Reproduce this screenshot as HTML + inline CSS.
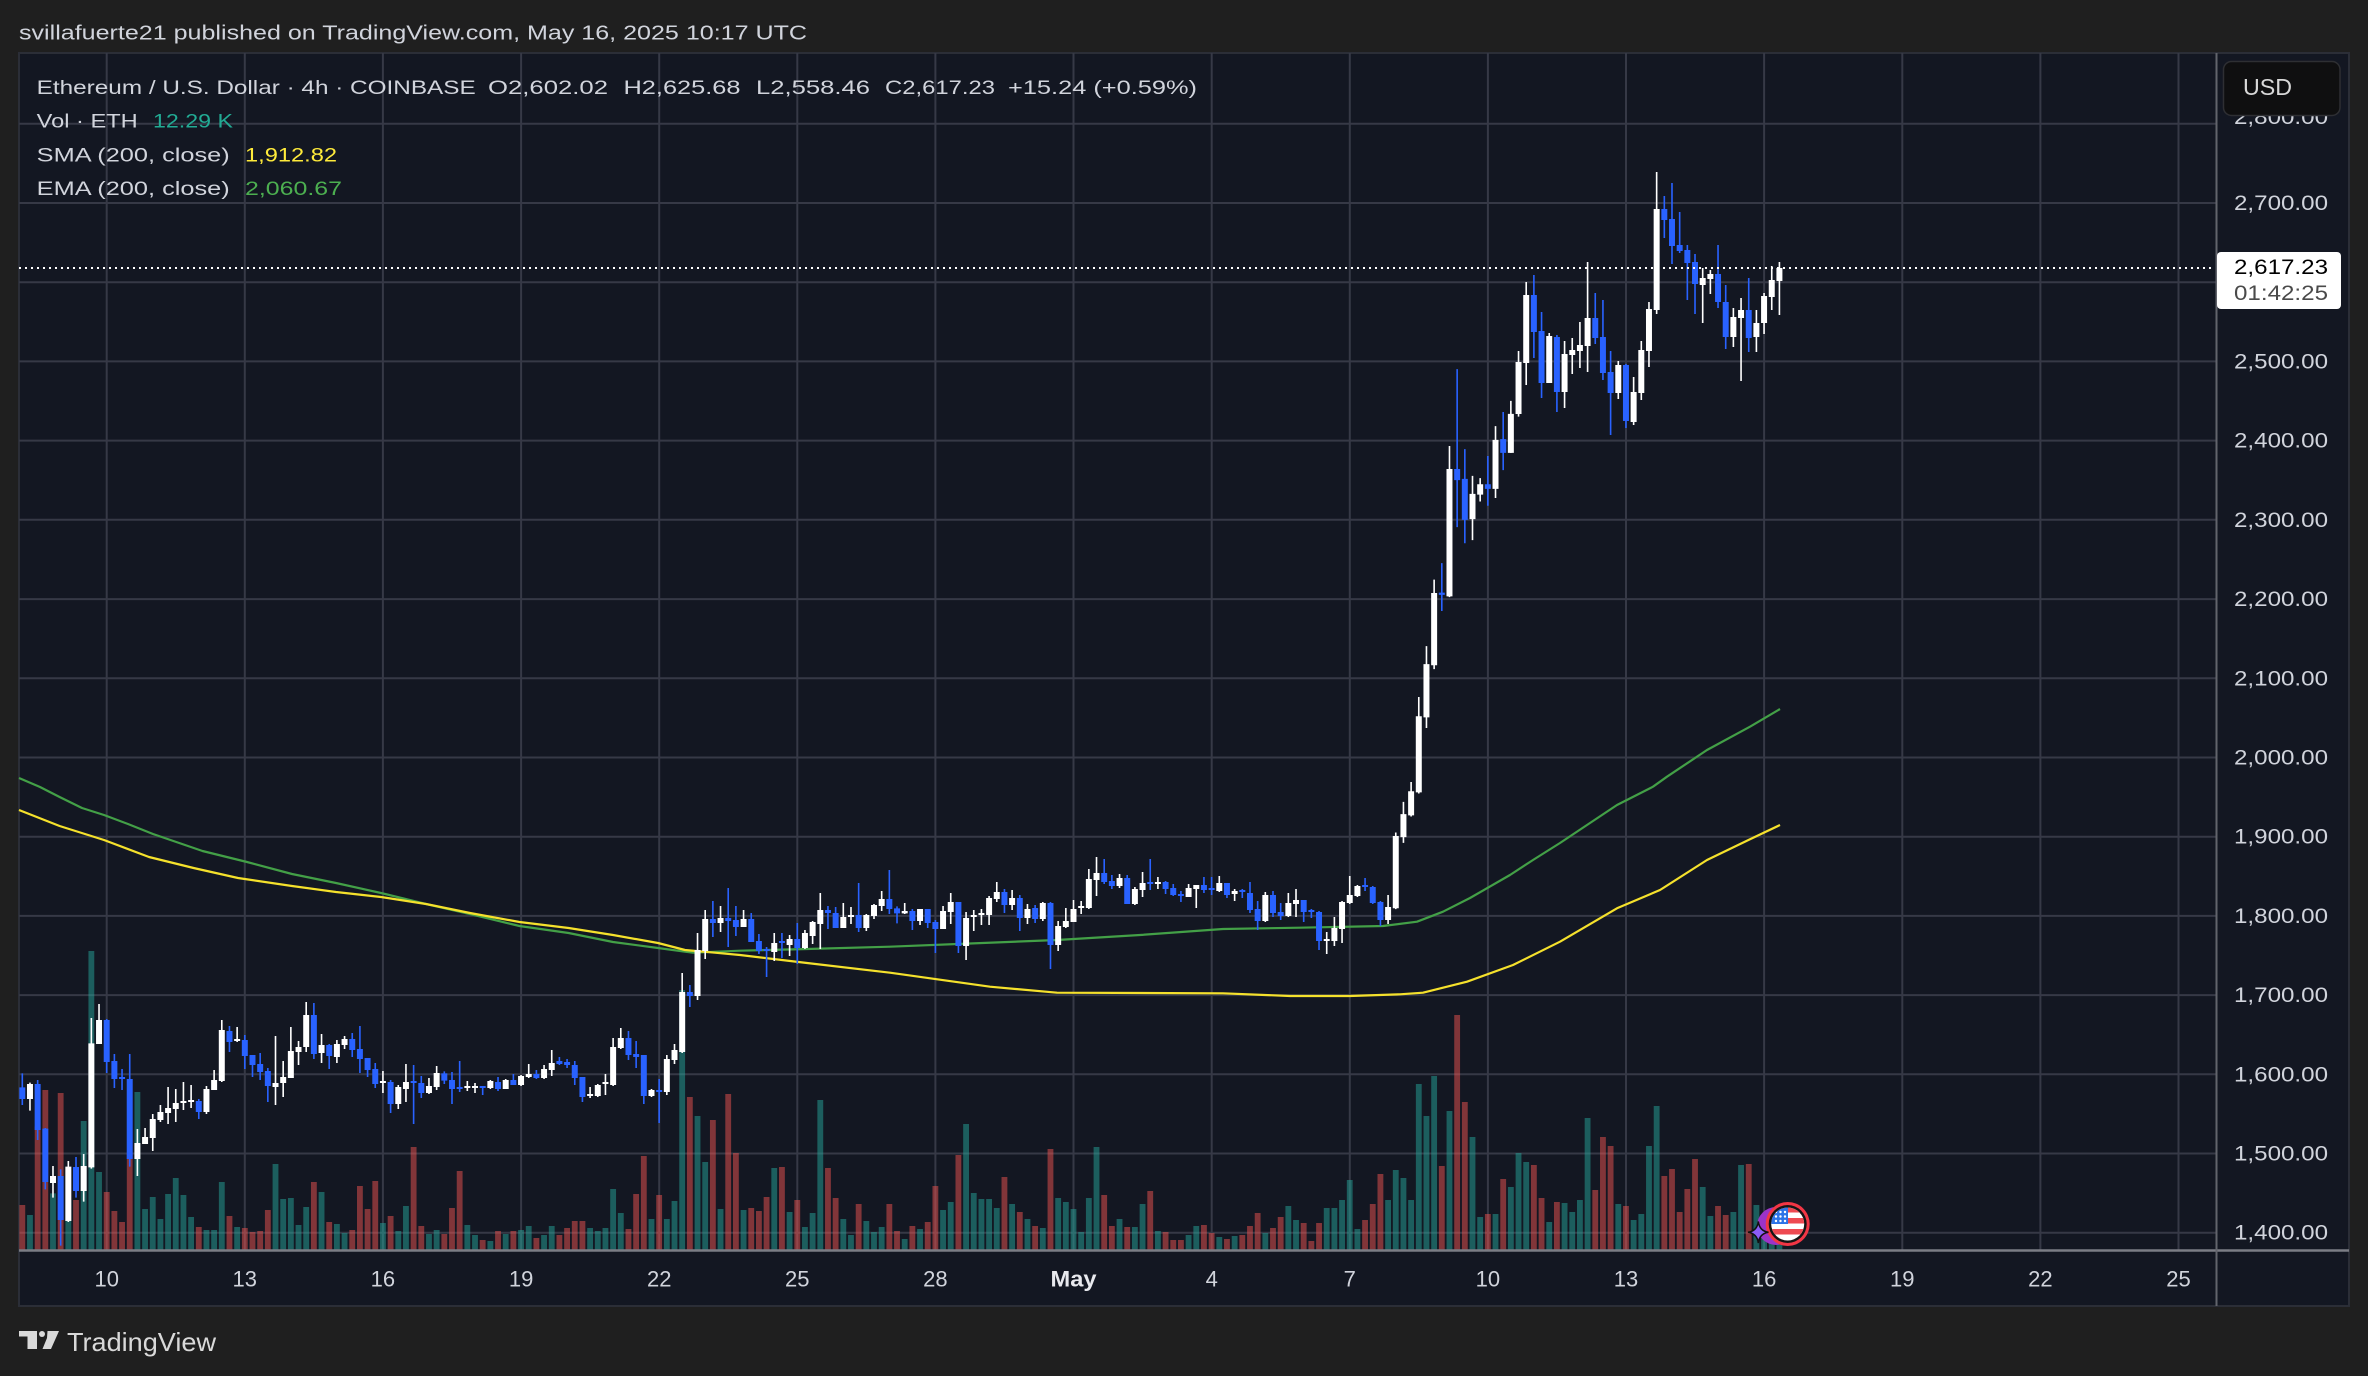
<!DOCTYPE html>
<html><head><meta charset="utf-8"><style>
html,body{margin:0;padding:0;background:#1f1f1f;overflow:hidden}
svg{display:block}
text{font-family:"Liberation Sans",sans-serif}
</style></head><body>
<svg width="2368" height="1376" viewBox="0 0 2368 1376" xmlns="http://www.w3.org/2000/svg">
<rect x="0" y="0" width="2368" height="1376" fill="#1f1f1f"/>
<text x="19" y="39.5" font-size="20" fill="#d1d4dc" textLength="788" lengthAdjust="spacingAndGlyphs">svillafuerte21 published on TradingView.com, May 16, 2025 10:17 UTC</text>
<rect x="19" y="53" width="2330" height="1253" fill="#131722" stroke="#2b2e37" stroke-width="2"/>
<!-- grid -->
<g stroke="#363946" stroke-width="2">
<path d="M19 123.8H2216M19 203H2216M19 282.2H2216M19 361.4H2216M19 440.6H2216M19 519.8H2216M19 599.1H2216M19 678.3H2216M19 757.5H2216M19 836.7H2216M19 915.9H2216M19 995.1H2216M19 1074.3H2216M19 1153.5H2216M19 1232.7H2216"/>
<path d="M106.7 53V1250M244.8 53V1250M382.9 53V1250M521.1 53V1250M659.2 53V1250M797.3 53V1250M935.4 53V1250M1073.5 53V1250M1211.7 53V1250M1349.8 53V1250M1487.9 53V1250M1626 53V1250M1764.1 53V1250M1902.3 53V1250M2040.4 53V1250M2178.5 53V1250"/>
</g>
<!-- volumes -->
<g fill="none" stroke-width="0.76">
<g transform="matrix(7.673 0 0 0.333333 22.3 900)">
<path stroke="rgba(38,166,154,0.5)" d="M1 945V1048.5M4 880V1048.5M6 900V1048.5M8 663V1048.5M9 153V1048.5M10 816V1048.5M15 576V1048.5M16 927V1048.5M17 891V1048.5M18 957V1048.5M19 882V1048.5M20 834V1048.5M21 885V1048.5M22 951V1048.5M24 990V1048.5M25 990V1048.5M26 846V1048.5M28 981V1048.5M33 792V1048.5M34 897V1048.5M35 894V1048.5M36 975V1048.5M37 921V1048.5M39 876V1048.5M41 972V1048.5M42 999V1048.5M47 969V1048.5M49 993V1048.5M50 918V1048.5M53 1002V1048.5M54 990V1048.5"/>
<path stroke="rgba(239,83,80,0.5)" d="M0 915V1048.5M2 680V1048.5M3 570V1048.5M5 579V1048.5M7 900V1048.5M11 876V1048.5M12 933V1048.5M13 966V1048.5M14 760V1048.5M23 981V1048.5M27 948V1048.5M29 984V1048.5M30 996V1048.5M31 993V1048.5M32 930V1048.5M38 846V1048.5M40 966V1048.5M43 990V1048.5M44 858V1048.5M45 927V1048.5M46 843V1048.5M48 948V1048.5M51 741V1048.5M52 978V1048.5"/>
</g>
<g transform="matrix(7.673 0 0 0.333333 22.3 860)">
<path stroke="rgba(38,166,154,0.5)" d="M58 1095V1168.5M59 1125V1168.5M61 1143V1168.5M63 1122V1168.5M65 1110V1168.5M66 1098V1168.5M68 1125V1168.5M69 1098V1168.5M74 1104V1168.5M75 1113V1168.5M76 1104V1168.5M77 987V1168.5M78 1059V1168.5M82 1077V1168.5M84 1077V1168.5M85 1023V1168.5M86 390V1168.5M88 768V1168.5M89 906V1168.5M91 1047V1168.5M94 1050V1168.5M98 924V1168.5M100 1056V1168.5M102 1101V1168.5M103 1059V1168.5M104 720V1168.5M107 1077V1168.5M108 1125V1168.5M110 1083V1168.5M111 1116V1168.5M112 1101V1168.5"/>
<path stroke="rgba(239,83,80,0.5)" d="M55 1122V1168.5M56 1044V1168.5M57 933V1168.5M60 1140V1168.5M62 1113V1168.5M64 1113V1168.5M67 1134V1168.5M70 1125V1168.5M71 1104V1168.5M72 1083V1168.5M73 1083V1168.5M79 1107V1168.5M80 1002V1168.5M81 888V1168.5M83 1005V1168.5M87 711V1168.5M90 780V1168.5M92 702V1168.5M93 879V1168.5M95 1044V1168.5M96 1053V1168.5M97 1011V1168.5M99 921V1168.5M101 1020V1168.5M105 924V1168.5M106 1014V1168.5M109 1032V1168.5M113 1032V1168.5"/>
</g>
<g transform="matrix(7.673 0 0 0.333333 22.3 840)">
<path stroke="rgba(38,166,154,0.5)" d="M115 1197V1228.5M117 1167V1228.5M120 1110V1228.5M121 1086V1228.5M123 852V1228.5M124 1059V1228.5M125 1077V1228.5M126 1077V1228.5M127 1104V1228.5M129 1092V1228.5M131 1137V1228.5M133 1164V1228.5M135 1074V1228.5M136 1086V1228.5M137 1107V1228.5M138 1176V1228.5M139 1074V1228.5M140 921V1228.5M143 1137V1228.5M145 1161V1228.5M146 1092V1228.5M148 1173V1228.5M152 1185V1228.5M153 1158V1228.5M156 1191V1228.5M158 1188V1228.5M162 1179V1228.5M165 1098V1228.5M166 1140V1228.5M170 1104V1228.5M171 1104V1228.5M172 1080V1228.5M173 1020V1228.5M174 1167V1228.5"/>
<path stroke="rgba(239,83,80,0.5)" d="M114 1173V1228.5M116 1158V1228.5M118 1146V1228.5M119 1038V1228.5M122 945V1228.5M128 1011V1228.5M130 1116V1228.5M132 1158V1228.5M134 927V1228.5M141 1065V1228.5M142 1158V1228.5M144 1161V1228.5M147 1053V1228.5M149 1176V1228.5M150 1200V1228.5M151 1200V1228.5M154 1155V1228.5M155 1179V1228.5M157 1197V1228.5M159 1185V1228.5M160 1158V1228.5M161 1119V1228.5M163 1164V1228.5M164 1131V1228.5M167 1149V1228.5M168 1203V1228.5M169 1149V1228.5"/>
</g>
<g transform="matrix(7.673 0 0 0.333333 22.3 980)">
<path stroke="rgba(38,166,154,0.5)" d="M178 660V808.5M179 570V808.5M180 594V808.5M181 660V808.5M182 312V808.5M183 408V808.5M184 288V808.5M186 393V808.5M189 471V808.5M190 711V808.5M192 702V808.5M194 621V808.5M195 519V808.5M196 546V808.5M199 726V808.5M201 669V808.5M202 696V808.5M203 660V808.5M204 414V808.5M208 672V808.5M210 720V808.5M211 702V808.5M212 498V808.5M213 378V808.5M219 621V808.5M220 708V808.5M223 696V808.5M224 555V808.5M226 675V808.5M227 760V808.5M228 780V808.5M229 790V808.5"/>
<path stroke="rgba(239,83,80,0.5)" d="M175 720V808.5M176 672V808.5M177 582V808.5M185 558V808.5M187 105V808.5M188 366V808.5M191 702V808.5M193 597V808.5M197 555V808.5M198 654V808.5M200 666V808.5M205 630V808.5M206 471V808.5M207 498V808.5M209 678V808.5M214 588V808.5M215 567V808.5M216 696V808.5M217 627V808.5M218 537V808.5M221 678V808.5M222 705V808.5M225 552V808.5"/>
</g>
</g>
<!-- moving averages -->
<polyline fill="none" stroke="#43a047" stroke-width="2.2" stroke-linejoin="round" points="19,778 40,787 59.6,797 82,808 104,815 128,824 153,834 202.5,851 247,862 292,874 336,883 381,893 426,904 470,914 519.5,926 568.6,933 613,942 658,948 685,951.7 693,952.7 740,950.7 807,949 890,946.7 970,943.5 1057,940 1140,935 1223,929 1300,927.7 1383,926 1417,921.7 1443,911.7 1470,898 1510,875 1533,860 1560,843 1590,823 1617,805 1653,786.7 1667,776.7 1707,750 1750,726.7 1780,709"/>
<polyline fill="none" stroke="#f5e12c" stroke-width="2.2" stroke-linejoin="round" points="19,810 59.6,826 104,840 149,857 193.6,868 238,878 292,886 336,892 381,897 426,904 470,913 519.5,922 568.6,928 613,935 658,943 685,950 715,952.7 740,955 807,963 890,972.7 990,986.7 1057,992.7 1223,993.3 1290,996 1350,996 1400,994.3 1423,992.7 1467,981.7 1513,965 1560,941.7 1617,908.3 1660,890 1707,860 1750,839.3 1780,825"/>
<!-- candles -->
<g fill="none">
<g transform="matrix(7.673 0 0 0.333333 22.3 900)">
<path stroke="#ffffff" stroke-width="0.21" d="M1 548V632M4 798V893M6 783V966M8 762V905M9 354V806M10 312V432M15 687V828M16 684V732M17 642V753M18 615V666M19 561V672M20 567V666M21 546V630M22 555V624M24 558V642M25 510V570M26 360V546M28 381V426M33 408V615M34 483V591M35 381V534M36 423V495M37 306V456M39 402V489M41 420V489M42 408V447M47 513V579M49 555V627M50 492V606M53 534V582M54 498V570"/>
<path stroke="#ffffff" stroke-width="0.78" d="M1 552V597M4 828V849M6 800V963M8 798V873M9 430V802M10 360V432M15 729V777M16 711V732M17 657V714M18 636V660M19 624V639M20 609V627M21 603V609M22 600V606M24 567V636M25 540V570M26 390V543M28 417V423M33 549V561M34 531V549M35 453V534M36 441V456M37 345V441M39 435V459M41 432V471M42 417V435M47 543V549M49 561V612M50 546V567M53 558V579M54 519V561"/>
<path stroke="#2962ff" stroke-width="0.21" d="M0 520V615M2 540V720M3 684V868M5 808V1037M7 771V893M11 357V519M12 462V564M13 507V570M14 462V800M23 597V657M27 378V456M29 405V507M30 465V531M31 459V540M32 504V606M38 309V477M40 432V507M43 399V471M44 378V519M45 474V531M46 489V564M48 540V639M51 495V672M52 528V594"/>
<path stroke="#2962ff" stroke-width="0.78" d="M0 562V597M2 552V690M3 686V846M5 828V960M7 801V873M11 360V486M12 483V537M13 531V537M14 537V777M23 603V636M27 393V426M29 420V468M30 465V495M31 492V516M32 513V558M38 345V462M40 435V468M43 417V450M44 447V477M45 474V510M46 507V552M48 546V612M51 543V549M52 549V579"/>
</g>
<g transform="matrix(7.673 0 0 0.333333 22.3 860)">
<path stroke="#ffffff" stroke-width="0.21" d="M58 663V693M59 669V699M61 660V687M63 657V687M65 645V678M66 612V654M68 615V657M69 570V648M74 681V714M75 672V711M76 642V705M77 534V678M78 504V567M82 687V711M84 585V705M85 552V612M86 339V579M88 219V420M89 150V297M91 138V216M94 150V201M98 219V303M100 225V288M102 210V267M103 183V252M104 99V267M107 129V204M108 141V192M110 162V213M111 132V177M112 93V153"/>
<path stroke="#ffffff" stroke-width="0.78" d="M58 678V684M59 678V684M61 663V684M63 660V687M65 648V675M66 642V651M68 627V654M69 609V630M74 702V708M75 675V708M76 666V672M77 561V675M78 534V564M82 690V708M84 597V696M85 570V600M86 396V576M88 270V408M89 177V273M91 174V189M94 177V201M98 249V276M100 237V255M102 219V264M103 186V228M104 150V192M107 171V204M108 165V171M110 165V204M111 135V168M112 117V138"/>
<path stroke="#2962ff" stroke-width="0.21" d="M55 634V672M56 636V732M57 603V696M60 678V705M62 651V693M64 642V675M67 630V657M70 591V615M71 597V624M72 603V675M73 651V726M79 513V600M80 543V624M81 585V732M83 657V789M87 375V441M90 123V231M92 84V261M93 138V228M95 159V246M96 222V282M97 261V351M99 219V294M101 189V312M105 138V207M106 141V204M109 69V216M113 30V162"/>
<path stroke="#2962ff" stroke-width="0.78" d="M55 640V662M56 660V687M57 681V687M60 678V684M62 666V687M64 660V675M67 642V654M70 603V612M71 606V615M72 615V654M73 651V711M79 534V585M80 582V591M81 585V708M83 690V696M87 396V408M90 177V189M92 174V183M93 180V201M95 177V246M96 243V273M97 267V273M99 243V249M101 237V264M105 150V159M106 159V204M109 165V204M113 117V147"/>
</g>
<g transform="matrix(7.673 0 0 0.333333 22.3 840)">
<path stroke="#ffffff" stroke-width="0.21" d="M115 189V222M117 207V255M120 198V267M121 159V252M123 216V360M124 210V273M125 207V255M126 168V255M127 126V186M129 150V210M131 192V252M133 186V243M135 243V333M136 204V264M137 180V246M138 183V222M139 87V207M140 51V168M143 102V144M145 141V195M146 96V171M148 111V147M152 132V171M153 135V204M156 108V156M158 147V183M162 156V246M165 159V231M166 147V231M170 276V342M171 231V318M172 183V309M173 108V192M174 135V171M178 165V252"/>
<path stroke="#ffffff" stroke-width="0.78" d="M115 213V220M117 207V243M120 213V267M121 186V216M123 234V318M124 225V231M125 219V225M126 174V225M127 156V177M129 174V195M131 207V234M133 189V237M135 258V315M136 243V261M137 207V246M138 198V204M139 117V204M140 99V120M143 114V138M145 147V192M146 129V150M148 126V132M152 144V171M153 135V147M156 129V153M158 153V162M162 165V243M165 189V228M166 180V192M170 297V303M171 264V303M172 186V267M173 165V189M174 138V168M178 201V240"/>
<path stroke="#2962ff" stroke-width="0.21" d="M114 199V250M116 207V270M118 207V264M119 240V339M122 186V339M128 147V219M130 165V273M132 195V249M134 186V387M141 57V132M142 105V147M144 105V192M147 57V150M149 123V162M150 132V168M151 153V186M154 111V159M155 111V165M157 129V174M159 147V174M160 126V219M161 183V270M163 153V231M164 189V240M167 180V246M168 207V234M169 213V330M175 114V153M176 138V192M177 183V258"/>
<path stroke="#2962ff" stroke-width="0.78" d="M114 205V220M116 213V243M118 207V249M119 246V267M122 186V318M128 156V195M130 174V234M132 204V237M134 189V315M141 99V126M142 123V138M144 114V192M147 126V132M149 126V147M150 144V165M151 162V168M154 135V150M155 144V150M157 129V165M159 150V156M160 159V210M161 207V243M163 165V219M164 216V228M167 180V216M168 210V216M169 216V303M175 135V141M176 141V189M177 186V240"/>
</g>
<g transform="matrix(7.673 0 0 0.3827 22.3 340)">
<path stroke="#ffffff" stroke-width="0.21" d="M179 1287V1487M180 1207V1314M181 1155V1245M182 933V1185M183 800V1014M184 626V860M186 277V672M189 355V523M190 361V422M192 225V413M194 159V295"/>
<path stroke="#ffffff" stroke-width="0.78" d="M179 1296V1485M180 1239V1299M181 1179V1242M182 983V1182M183 847V986M184 661V850M186 337V670M189 402V468M190 377V404M192 261V389M194 193V295"/>
<path stroke="#2962ff" stroke-width="0.21" d="M185 583V708M187 76V489M188 285V531M191 303V433M193 188V340"/>
<path stroke="#2962ff" stroke-width="0.78" d="M185 660V666M187 337V366M188 363V470M191 377V389M193 259V295"/>
</g>
<g transform="matrix(7.673 0 0 0.333333 22.3 150)">
<path stroke="#ffffff" stroke-width="0.21" d="M195 603V800M196 396V705M199 549V699M201 573V774M202 564V672M203 516V654M204 336V666M208 633V747M210 681V825M211 573V750M212 456V651M213 66V492M219 354V519M220 360V432M223 474V591M224 444V693M226 480V606M227 429V552M228 348V480M229 336V495"/>
<path stroke="#ffffff" stroke-width="0.78" d="M195 636V792M196 435V639M199 558V699M201 612V726M202 600V615M203 585V603M204 504V588M208 645V729M210 726V816M211 600V729M212 477V603M213 177V480M219 384V405M220 372V387M223 501V561M224 480V504M226 519V561M227 438V519M228 390V441M229 354V393"/>
<path stroke="#2962ff" stroke-width="0.21" d="M197 375V624M198 486V744M200 555V786M205 429V582M206 450V690M207 603V855M209 642V834M214 138V264M215 99V342M216 186V309M217 285V450M218 312V492M221 285V474M222 405V597M225 384V606"/>
<path stroke="#2962ff" stroke-width="0.78" d="M197 435V546M198 543V699M200 561V726M205 504V564M206 561V669M207 666V729M209 645V813M214 177V210M215 207V288M216 285V303M217 300V339M218 336V402M221 372V456M222 456V561M225 480V564"/>
</g>
</g>
<!-- current price line -->
<path d="M19 268H2215" stroke="#ffffff" stroke-width="2" stroke-dasharray="2 4"/>
<!-- axes separators -->
<path d="M19 1250.5H2349" stroke="#7b7d85" stroke-width="2.5"/>
<path d="M2216.5 53V1306" stroke="#62646c" stroke-width="2"/>
<!-- legend -->
<g font-size="19.5" fill="#d1d4dc">
<text x="36.7" y="94" textLength="439" lengthAdjust="spacingAndGlyphs">Ethereum / U.S. Dollar · 4h · COINBASE</text>
<text x="488" y="94" textLength="120" lengthAdjust="spacingAndGlyphs">O2,602.02</text>
<text x="623.5" y="94" textLength="117" lengthAdjust="spacingAndGlyphs">H2,625.68</text>
<text x="756" y="94" textLength="114" lengthAdjust="spacingAndGlyphs">L2,558.46</text>
<text x="885" y="94" textLength="110" lengthAdjust="spacingAndGlyphs">C2,617.23</text>
<text x="1008" y="94" textLength="189" lengthAdjust="spacingAndGlyphs">+15.24 (+0.59%)</text>
<text x="36.7" y="127.5" textLength="101" lengthAdjust="spacingAndGlyphs">Vol · ETH</text>
<text x="153" y="127.5" textLength="80" lengthAdjust="spacingAndGlyphs" fill="#22ab94">12.29 K</text>
<text x="36.7" y="161.5" textLength="193" lengthAdjust="spacingAndGlyphs">SMA (200, close)</text>
<text x="245" y="161.5" textLength="92" lengthAdjust="spacingAndGlyphs" fill="#ffeb3b">1,912.82</text>
<text x="36.7" y="195" textLength="193" lengthAdjust="spacingAndGlyphs">EMA (200, close)</text>
<text x="245" y="195" textLength="97" lengthAdjust="spacingAndGlyphs" fill="#4caf50">2,060.67</text>
</g>
<!-- price axis labels -->
<g font-size="21" fill="#d1d4dc">
<text x="2234" y="124" textLength="94" lengthAdjust="spacingAndGlyphs">2,800.00</text>
<text x="2234" y="210" textLength="94" lengthAdjust="spacingAndGlyphs">2,700.00</text>
<text x="2234" y="368.4" textLength="94" lengthAdjust="spacingAndGlyphs">2,500.00</text>
<text x="2234" y="447.6" textLength="94" lengthAdjust="spacingAndGlyphs">2,400.00</text>
<text x="2234" y="526.8" textLength="94" lengthAdjust="spacingAndGlyphs">2,300.00</text>
<text x="2234" y="606.1" textLength="94" lengthAdjust="spacingAndGlyphs">2,200.00</text>
<text x="2234" y="685.3" textLength="94" lengthAdjust="spacingAndGlyphs">2,100.00</text>
<text x="2234" y="764.5" textLength="94" lengthAdjust="spacingAndGlyphs">2,000.00</text>
<text x="2234" y="843.7" textLength="94" lengthAdjust="spacingAndGlyphs">1,900.00</text>
<text x="2234" y="922.9" textLength="94" lengthAdjust="spacingAndGlyphs">1,800.00</text>
<text x="2234" y="1002.1" textLength="94" lengthAdjust="spacingAndGlyphs">1,700.00</text>
<text x="2234" y="1081.3" textLength="94" lengthAdjust="spacingAndGlyphs">1,600.00</text>
<text x="2234" y="1160.5" textLength="94" lengthAdjust="spacingAndGlyphs">1,500.00</text>
<text x="2234" y="1239.7" textLength="94" lengthAdjust="spacingAndGlyphs">1,400.00</text>
</g>
<!-- USD button -->
<rect x="2223.5" y="61.5" width="116.5" height="54" rx="8" fill="#0f0f10" stroke="#2e2f33" stroke-width="1.5"/>
<text x="2243" y="95" font-size="23" fill="#d8d8d8" textLength="49" lengthAdjust="spacingAndGlyphs">USD</text>
<!-- price tag -->
<rect x="2217" y="252" width="124" height="57" rx="4" fill="#ffffff"/>
<text x="2234" y="274" font-size="21" fill="#000000" textLength="94" lengthAdjust="spacingAndGlyphs">2,617.23</text>
<text x="2234" y="300" font-size="21" fill="#4a4a4a" textLength="94" lengthAdjust="spacingAndGlyphs">01:42:25</text>
<!-- time axis labels -->
<g font-size="22" fill="#d1d4dc" text-anchor="middle">
<text x="106.7" y="1286.5">10</text>
<text x="244.8" y="1286.5">13</text>
<text x="382.9" y="1286.5">16</text>
<text x="521.1" y="1286.5">19</text>
<text x="659.2" y="1286.5">22</text>
<text x="797.3" y="1286.5">25</text>
<text x="935.4" y="1286.5">28</text>
<text x="1073.5" y="1286.5" font-weight="bold" fill="#e8e9ee" textLength="46" lengthAdjust="spacingAndGlyphs">May</text>
<text x="1211.7" y="1286.5">4</text>
<text x="1349.8" y="1286.5">7</text>
<text x="1487.9" y="1286.5">10</text>
<text x="1626" y="1286.5">13</text>
<text x="1764.1" y="1286.5">16</text>
<text x="1902.3" y="1286.5">19</text>
<text x="2040.4" y="1286.5">22</text>
<text x="2178.5" y="1286.5">25</text>
</g>
<!-- event icons -->
<defs><clipPath id="fc"><circle cx="1787.7" cy="1224" r="16.5"/></clipPath></defs>
<circle cx="1776" cy="1226" r="19" fill="#9c33c9"/>
<circle cx="1787.7" cy="1224" r="22" fill="#f23645"/>
<circle cx="1787.7" cy="1224" r="19" fill="#151515"/>
<g clip-path="url(#fc)">
<rect x="1770" y="1207" width="36" height="34" fill="#ffffff"/>
<rect x="1770" y="1207" width="36" height="5.5" fill="#ee4a52"/>
<rect x="1770" y="1218" width="36" height="5.5" fill="#ee4a52"/>
<rect x="1770" y="1229" width="36" height="5.5" fill="#ee4a52"/>
<rect x="1770" y="1207" width="18" height="17" fill="#2d74e8"/>
<g fill="#ffffff"><circle cx="1776" cy="1212" r="1.2"/><circle cx="1780.5" cy="1212" r="1.2"/><circle cx="1785" cy="1212" r="1.2"/><circle cx="1776" cy="1216.5" r="1.2"/><circle cx="1780.5" cy="1216.5" r="1.2"/><circle cx="1785" cy="1216.5" r="1.2"/><circle cx="1776" cy="1221" r="1.2"/><circle cx="1780.5" cy="1221" r="1.2"/><circle cx="1785" cy="1221" r="1.2"/></g>
</g>
<path d="M1758.3 1221.5Q1759.5 1231 1768.5 1232.3Q1759.5 1233.6 1758.3 1243Q1757.1 1233.6 1748 1232.3Q1757.1 1231 1758.3 1221.5Z" fill="#8b5cf6" stroke="#111" stroke-width="1.5"/>
<!-- TradingView logo -->
<g fill="#d9d9d9">
<rect x="19" y="1331" width="18" height="5.5"/>
<rect x="27.5" y="1331" width="9.5" height="18"/>
<circle cx="42" cy="1334" r="3"/>
<polygon points="47.5,1331 59,1331 51,1349 42.5,1349 47,1338"/>
</g>
<text x="67" y="1351" font-size="26" fill="#d9d9d9" textLength="149" lengthAdjust="spacingAndGlyphs">TradingView</text>
</svg>
</body></html>
